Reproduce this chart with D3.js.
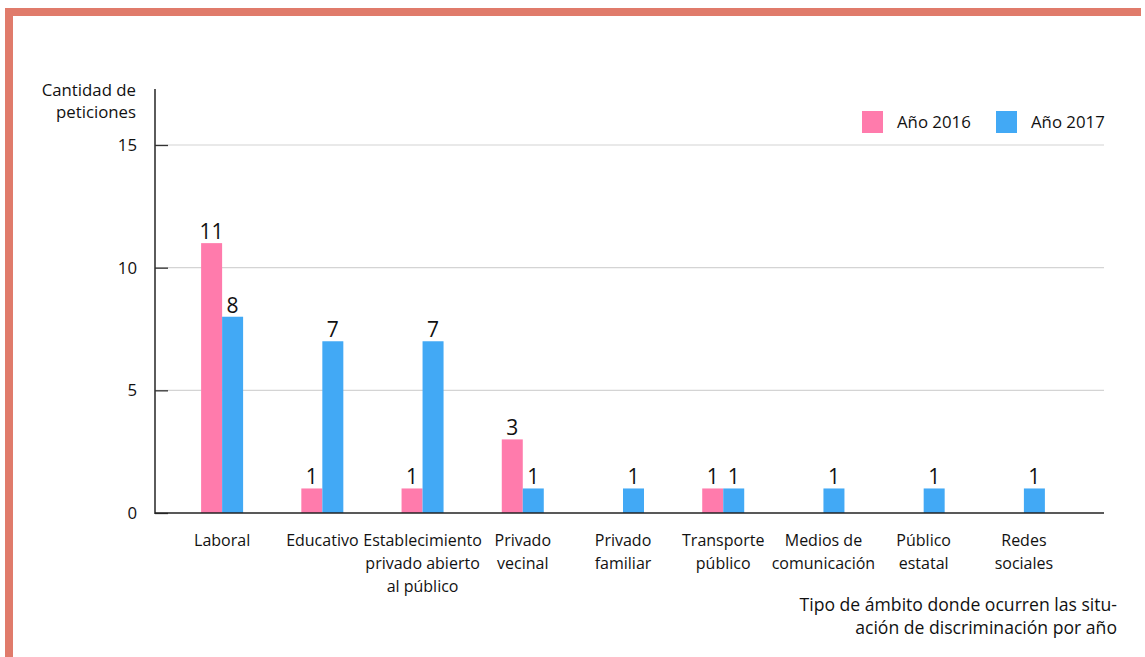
<!DOCTYPE html>
<html>
<head>
<meta charset="utf-8">
<script src="https://cdn.jsdelivr.net/npm/d3@7"></script>
<style>
  body { margin: 0; background: #fff; }
  svg { font-family: "Open Sans", "Noto Sans", sans-serif; }
</style>
</head>
<body>
<div id="chart"></div>
<script>
// Data
const categories = [
  ["Laboral"],
  ["Educativo"],
  ["Establecimiento", "privado abierto", "al público"],
  ["Privado", "vecinal"],
  ["Privado", "familiar"],
  ["Transporte", "público"],
  ["Medios de", "comunicación"],
  ["Público", "estatal"],
  ["Redes", "sociales"]
];
const series = ["Año 2016", "Año 2017"];
const values2016 = [11, 1, 1, 3, 0, 1, 0, 0, 0];
const values2017 = [8, 7, 7, 1, 1, 1, 1, 1, 1];
const yTicks = [0, 5, 10, 15];

const colors = ["#ff7bac", "#42a9f5"];
const width = 1145;
const height = 657;
const fs = 16.8;

const svg = d3.select("#chart")
  .append("svg")
  .attr("width", width)
  .attr("height", height);

// Frame border (top and left)
svg.append("rect").attr("x", 5).attr("y", 8).attr("width", 1136).attr("height", 8).attr("fill", "#e07b6b");
svg.append("rect").attr("x", 5).attr("y", 8).attr("width", 8).attr("height", height).attr("fill", "#e07b6b");

// Scales
const keys = categories.map((d, i) => i);
const x = d3.scaleBand()
  .domain(keys)
  .range([172, 1074]);

const xs = d3.scaleBand()
  .domain(series)
  .range([x.bandwidth() / 2 - 21, x.bandwidth() / 2 + 21]);

const y = d3.scaleLinear()
  .domain([0, 15])
  .range([513, 145]);

// Gridlines
svg.append("g")
  .selectAll("line")
  .data(yTicks.filter(d => d > 0))
  .join("line")
  .attr("x1", 155).attr("x2", 1104)
  .attr("y1", d => y(d)).attr("y2", d => y(d))
  .attr("stroke", "#d4d4d4")
  .attr("stroke-width", 1.2);

// Y axis
const yAxis = svg.append("g")
  .attr("transform", "translate(155,0)")
  .call(d3.axisRight(y).tickValues(yTicks).tickSize(13).tickFormat(""));
yAxis.select(".domain").remove();
yAxis.selectAll(".tick line").attr("stroke", "#333").attr("stroke-width", 1.3);
svg.append("line")
  .attr("x1", 155).attr("x2", 155)
  .attr("y1", 89).attr("y2", 514)
  .attr("stroke", "#333").attr("stroke-width", 1.6);

svg.append("g")
  .selectAll("text")
  .data(yTicks)
  .join("text")
  .attr("x", 137)
  .attr("y", d => y(d))
  .attr("dy", "0.35em")
  .attr("text-anchor", "end")
  .attr("font-size", fs)
  .attr("fill", "#111")
  .text(d => d);

// Y title
svg.append("text")
  .attr("text-anchor", "end")
  .attr("font-size", fs)
  .attr("fill", "#111")
  .selectAll("tspan")
  .data(["Cantidad de", "peticiones"])
  .join("tspan")
  .attr("x", 136)
  .attr("y", (d, i) => 96 + i * 22)
  .text(d => d);

// Bars
const rows = keys.map(i => [
  { key: series[0], value: values2016[i], i },
  { key: series[1], value: values2017[i], i }
]);

const groups = svg.append("g")
  .selectAll("g")
  .data(rows)
  .join("g")
  .attr("transform", (d, i) => `translate(${x(i)},0)`);

groups.selectAll("rect")
  .data(d => d.filter(v => v.value > 0))
  .join("rect")
  .attr("x", d => xs(d.key))
  .attr("width", xs.bandwidth())
  .attr("y", d => y(d.value))
  .attr("height", d => y(0) - y(d.value))
  .attr("fill", d => colors[series.indexOf(d.key)]);

groups.selectAll("text.val")
  .data(d => d.filter(v => v.value > 0))
  .join("text")
  .attr("class", "val")
  .attr("x", d => xs(d.key) + xs.bandwidth() / 2)
  .attr("y", d => y(d.value) - 4)
  .attr("text-anchor", "middle")
  .attr("font-size", 21)
  .attr("fill", "#111")
  .text(d => d.value);

// Baseline
svg.append("line")
  .attr("x1", 155).attr("x2", 1104)
  .attr("y1", y(0)).attr("y2", y(0))
  .attr("stroke", "#222").attr("stroke-width", 1.6);

// Category labels
svg.append("g")
  .selectAll("text")
  .data(categories)
  .join("text")
  .attr("text-anchor", "middle")
  .attr("font-size", 16)
  .attr("fill", "#111")
  .each(function(lines, i) {
    d3.select(this).selectAll("tspan")
      .data(lines)
      .join("tspan")
      .attr("x", x(i) + x.bandwidth() / 2)
      .attr("y", (d, j) => 546 + j * 23)
      .text(d => d);
  });

// X title
svg.append("text")
  .attr("text-anchor", "end")
  .attr("font-size", 17.6)
  .attr("fill", "#111")
  .selectAll("tspan")
  .data(["Tipo de ámbito donde ocurren las situ-", "ación de discriminación por año"])
  .join("tspan")
  .attr("x", 1117)
  .attr("y", (d, i) => 611 + i * 23)
  .text(d => d);

// Legend
const legendX = [862, 996];
const legend = svg.append("g")
  .selectAll("g")
  .data(series)
  .join("g")
  .attr("transform", (d, i) => `translate(${legendX[i]},111)`);
legend.append("rect")
  .attr("width", 21).attr("height", 22)
  .attr("fill", (d, i) => colors[i]);
legend.append("text")
  .attr("x", 35).attr("y", 11)
  .attr("dy", "0.35em")
  .attr("font-size", fs)
  .attr("fill", "#111")
  .text(d => d);
</script>
</body>
</html>
